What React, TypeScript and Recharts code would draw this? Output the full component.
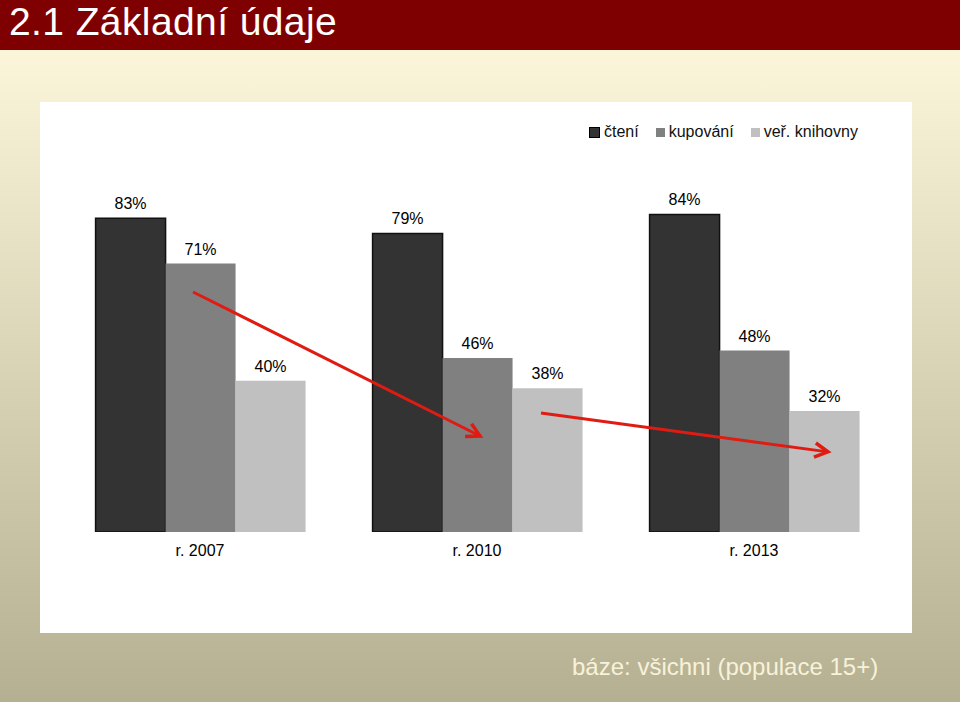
import React from 'react';
import { BarChart, Bar, XAxis, YAxis, LabelList, Legend, ReferenceLine, ScatterChart, Scatter } from 'recharts';

const categories = ['r. 2007', 'r. 2010', 'r. 2013'];
const cteni = [83, 79, 84];
const kupovani = [71, 46, 48];
const knihovny = [40, 38, 32];
const seriesNames = ['čtení', 'kupování', 'veř. knihovny'];
const seriesColors = ['#333333', '#808080', '#c0c0c0'];
// trend arrows, in (category position 0..3, percent) coordinates
const arrow1 = [{ x: 0.475, y: 63.5 }, { x: 1.511, y: 25.4 }];
const arrow2 = [{ x: 1.731, y: 31.5 }, { x: 2.767, y: 21.2 }];

const data = categories.map((c, i) => ({
  name: c,
  cteni: cteni[i],
  kupovani: kupovani[i],
  knihovny: knihovny[i],
}));

const FONT = '"Liberation Sans", Arial, sans-serif';
const RED = '#e01b12';
const MARGIN = { top: 52, right: 19.5, bottom: 71, left: 21.5 };

const Arrow = (props: any) => {
  const { x1, y1, x2, y2 } = props;
  if ([x1, y1, x2, y2].some((v) => v == null || isNaN(v))) return null;
  const ang = Math.atan2(y2 - y1, x2 - x1);
  const L = 15;
  const a = 0.5;
  const p1 = [x2 - L * Math.cos(ang - a), y2 - L * Math.sin(ang - a)];
  const p2 = [x2 - L * Math.cos(ang + a), y2 - L * Math.sin(ang + a)];
  return (
    <g>
      <line x1={x1} y1={y1} x2={x2} y2={y2} stroke={RED} strokeWidth={3} />
      <polyline
        points={`${p1[0]},${p1[1]} ${x2},${y2} ${p2[0]},${p2[1]}`}
        fill="none"
        stroke={RED}
        strokeWidth={3.5}
        strokeLinejoin="miter"
      />
    </g>
  );
};

const LegendContent = () => (
  <div style={{ display: 'flex', fontFamily: FONT, fontSize: 16, color: '#111', whiteSpace: 'nowrap' }}>
    {seriesNames.map((n, i) => (
      <div key={n} style={{ display: 'flex', alignItems: 'center', marginRight: 17 }}>
        <span
          style={{
            display: 'inline-block',
            width: 9,
            height: 9,
            background: seriesColors[i],
            border: i === 0 ? '1px solid #000' : 'none',
            marginRight: 4,
          }}
        />
        <span>{n}</span>
      </div>
    ))}
  </div>
);

const pct = (v: any) => `${v}%`;

export default function App() {
  return (
    <div
      style={{
        position: 'absolute',
        left: 0,
        top: 0,
        width: 960,
        height: 702,
        overflow: 'hidden',
        fontFamily: FONT,
        background: 'linear-gradient(to bottom, #fbf7de 0px, #faf5d8 60px, #b6b092 702px)',
      }}
    >
      <div
        style={{
          position: 'absolute',
          left: 0,
          top: 0,
          width: 960,
          height: 50,
          background: '#7e0000',
        }}
      >
        <div
          style={{
            position: 'absolute',
            left: 9,
            top: 0,
            lineHeight: '44px',
            fontSize: 39,
            letterSpacing: 0.4,
            color: '#ffffff',
            whiteSpace: 'nowrap',
          }}
        >
          2.1 Základní údaje
        </div>
      </div>
      <div
        style={{
          position: 'absolute',
          left: 40,
          top: 102,
          width: 872,
          height: 531,
          background: '#ffffff',
        }}
      >
        <BarChart width={872} height={531} data={data} margin={MARGIN} barCategoryGap="12.3%" barGap={0}>
          <XAxis
            dataKey="name"
            axisLine={false}
            tickLine={false}
            height={30}
            tickMargin={7}
            tick={{ fill: '#000', fontSize: 16, fontFamily: FONT }}
          />
          <YAxis hide domain={[0, 100]} allowDataOverflow />
          <Legend
            verticalAlign="top"
            align="left"
            content={<LegendContent />}
            wrapperStyle={{ position: 'absolute', top: 21, left: 549, height: 0, width: 330, overflow: 'visible' }}
          />
          <Bar dataKey="cteni" name={seriesNames[0]} fill={seriesColors[0]} stroke="#111" strokeWidth={1.5} isAnimationActive={false}>
            <LabelList dataKey="cteni" position="top" offset={9} formatter={pct} fill="#000" fontSize={16} fontFamily={FONT} />
          </Bar>
          <Bar dataKey="kupovani" name={seriesNames[1]} fill={seriesColors[1]} isAnimationActive={false}>
            <LabelList dataKey="kupovani" position="top" offset={9} formatter={pct} fill="#000" fontSize={16} fontFamily={FONT} />
          </Bar>
          <Bar dataKey="knihovny" name={seriesNames[2]} fill={seriesColors[2]} isAnimationActive={false}>
            <LabelList dataKey="knihovny" position="top" offset={9} formatter={pct} fill="#000" fontSize={16} fontFamily={FONT} />
          </Bar>
        </BarChart>
        <div style={{ position: 'absolute', left: 0, top: 0, pointerEvents: 'none' }}>
          <ScatterChart width={872} height={531} margin={{ ...MARGIN, bottom: 101 }}>
            <XAxis type="number" dataKey="x" domain={[0, 3]} allowDataOverflow hide />
            <YAxis type="number" dataKey="y" domain={[0, 100]} allowDataOverflow hide />
            <Scatter data={[]} isAnimationActive={false} />
            <ReferenceLine segment={arrow1} shape={Arrow} ifOverflow="visible" />
            <ReferenceLine segment={arrow2} shape={Arrow} ifOverflow="visible" />
          </ScatterChart>
        </div>
      </div>
      <div
        style={{
          position: 'absolute',
          left: 572,
          top: 652,
          fontSize: 24,
          lineHeight: '30px',
          color: '#f7f2da',
          whiteSpace: 'nowrap',
        }}
      >
        báze: všichni (populace 15+)
      </div>
    </div>
  );
}
